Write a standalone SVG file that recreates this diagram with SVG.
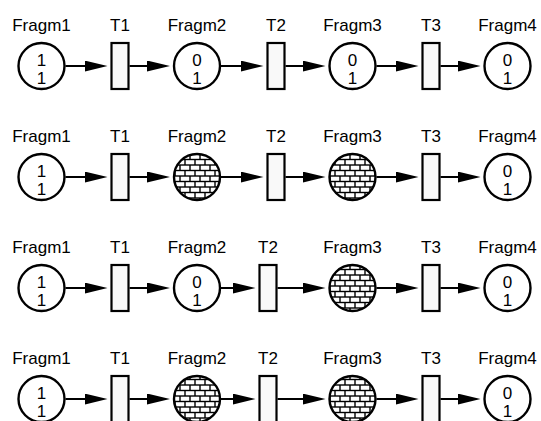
<svg xmlns="http://www.w3.org/2000/svg" width="541" height="421" viewBox="0 0 541 421">
<style>
.lbl{font-family:"Liberation Sans",Arial,sans-serif;font-size:17px;fill:#000;text-anchor:middle}
.tok{font-family:"Liberation Sans",Arial,sans-serif;font-size:17px;fill:#000;text-anchor:middle}
.pl{fill:#fff;stroke:#000;stroke-width:2.4}
.br{fill:url(#brick);stroke:#000;stroke-width:2.4}
.tr{fill:#f9f9f9;stroke:#000;stroke-width:2.2}
.ar{stroke:#000;stroke-width:2;fill:none;marker-end:url(#ah)}
</style>
<defs>
<marker id="ah" markerUnits="userSpaceOnUse" markerWidth="23" markerHeight="11" refX="13" refY="5.5" orient="auto" viewBox="0 0 23 11">
<path d="M0,0 L23,5.5 L0,11 z" fill="#000"/>
</marker>
<pattern id="brick" patternUnits="userSpaceOnUse" width="10" height="11">
<rect width="10" height="11" fill="#000"/>
<rect x="0.7" y="0.7" width="8.6" height="4.1" fill="#fff"/>
<rect x="-4.3" y="6.2" width="8.6" height="4.1" fill="#fff"/>
<rect x="5.7" y="6.2" width="8.6" height="4.1" fill="#fff"/>
</pattern>
</defs>

<!-- Row 1 -->
<g id="r1">
<g id="r1-fragm1"><text class="lbl" x="41.5" y="30.5">Fragm1</text><circle class="pl" cx="41.5" cy="66" r="23"/><text class="tok" x="41.5" y="65.5">1</text><text class="tok" x="41.5" y="83.5">1</text></g>
<g id="r1-t1"><text class="lbl" x="120" y="30.5">T1</text><rect class="tr" x="111.5" y="43" width="17" height="46"/></g>
<g id="r1-fragm2"><text class="lbl" x="197" y="30.5">Fragm2</text><circle class="pl" cx="197" cy="66" r="23"/><text class="tok" x="197" y="65.5">0</text><text class="tok" x="197" y="83.5">1</text></g>
<g id="r1-t2"><text class="lbl" x="276" y="30.5">T2</text><rect class="tr" x="267.5" y="43" width="17" height="46"/></g>
<g id="r1-fragm3"><text class="lbl" x="352.5" y="30.5">Fragm3</text><circle class="pl" cx="352.5" cy="66" r="23"/><text class="tok" x="352.5" y="65.5">0</text><text class="tok" x="352.5" y="83.5">1</text></g>
<g id="r1-t3"><text class="lbl" x="431" y="30.5">T3</text><rect class="tr" x="422.5" y="43" width="17" height="46"/></g>
<g id="r1-fragm4"><text class="lbl" x="507.5" y="30.5">Fragm4</text><circle class="pl" cx="507.5" cy="66" r="23"/><text class="tok" x="507.5" y="65.5">0</text><text class="tok" x="507.5" y="83.5">1</text></g>
</g>

<!-- Row 2 -->
<g id="r2">
<g id="r2-fragm1"><text class="lbl" x="41.5" y="141.5">Fragm1</text><circle class="pl" cx="41.5" cy="177" r="23"/><text class="tok" x="41.5" y="176.5">1</text><text class="tok" x="41.5" y="194.5">1</text></g>
<g id="r2-t1"><text class="lbl" x="120" y="141.5">T1</text><rect class="tr" x="111.5" y="154" width="17" height="46"/></g>
<g id="r2-fragm2"><text class="lbl" x="197" y="141.5">Fragm2</text><circle class="br" cx="197" cy="177" r="23"/></g>
<g id="r2-t2"><text class="lbl" x="276" y="141.5">T2</text><rect class="tr" x="267.5" y="154" width="17" height="46"/></g>
<g id="r2-fragm3"><text class="lbl" x="352.5" y="141.5">Fragm3</text><circle class="br" cx="352.5" cy="177" r="23"/></g>
<g id="r2-t3"><text class="lbl" x="431" y="141.5">T3</text><rect class="tr" x="422.5" y="154" width="17" height="46"/></g>
<g id="r2-fragm4"><text class="lbl" x="507.5" y="141.5">Fragm4</text><circle class="pl" cx="507.5" cy="177" r="23"/><text class="tok" x="507.5" y="176.5">0</text><text class="tok" x="507.5" y="194.5">1</text></g>
</g>

<!-- Row 3 -->
<g id="r3">
<g id="r3-fragm1"><text class="lbl" x="41.5" y="252.5">Fragm1</text><circle class="pl" cx="41.5" cy="288" r="23"/><text class="tok" x="41.5" y="287.5">1</text><text class="tok" x="41.5" y="305.5">1</text></g>
<g id="r3-t1"><text class="lbl" x="120" y="252.5">T1</text><rect class="tr" x="111.5" y="265" width="17" height="46"/></g>
<g id="r3-fragm2"><text class="lbl" x="197" y="252.5">Fragm2</text><circle class="pl" cx="197" cy="288" r="23"/><text class="tok" x="197" y="287.5">0</text><text class="tok" x="197" y="305.5">1</text></g>
<g id="r3-t2"><text class="lbl" x="268" y="252.5">T2</text><rect class="tr" x="259.5" y="265" width="17" height="46"/></g>
<g id="r3-fragm3"><text class="lbl" x="352.5" y="252.5">Fragm3</text><circle class="br" cx="352.5" cy="288" r="23"/></g>
<g id="r3-t3"><text class="lbl" x="431" y="252.5">T3</text><rect class="tr" x="422.5" y="265" width="17" height="46"/></g>
<g id="r3-fragm4"><text class="lbl" x="507.5" y="252.5">Fragm4</text><circle class="pl" cx="507.5" cy="288" r="23"/><text class="tok" x="507.5" y="287.5">0</text><text class="tok" x="507.5" y="305.5">1</text></g>
</g>

<!-- Row 4 -->
<g id="r4">
<g id="r4-fragm1"><text class="lbl" x="41.5" y="363.5">Fragm1</text><circle class="pl" cx="41.5" cy="399" r="23"/><text class="tok" x="41.5" y="398.5">1</text><text class="tok" x="41.5" y="416.5">1</text></g>
<g id="r4-t1"><text class="lbl" x="120" y="363.5">T1</text><rect class="tr" x="111.5" y="376" width="17" height="48"/></g>
<g id="r4-fragm2"><text class="lbl" x="197" y="363.5">Fragm2</text><circle class="br" cx="197" cy="399" r="23"/></g>
<g id="r4-t2"><text class="lbl" x="268" y="363.5">T2</text><rect class="tr" x="259.5" y="376" width="17" height="48"/></g>
<g id="r4-fragm3"><text class="lbl" x="352.5" y="363.5">Fragm3</text><circle class="br" cx="352.5" cy="399" r="23"/></g>
<g id="r4-t3"><text class="lbl" x="431" y="363.5">T3</text><rect class="tr" x="422.5" y="376" width="17" height="48"/></g>
<g id="r4-fragm4"><text class="lbl" x="507.5" y="363.5">Fragm4</text><circle class="pl" cx="507.5" cy="399" r="23"/><text class="tok" x="507.5" y="398.5">0</text><text class="tok" x="507.5" y="416.5">1</text></g>
</g>

<g id="connectors">
<!-- row 1 -->
<line class="ar" x1="65.5" y1="66" x2="97.5" y2="66"/>
<line class="ar" x1="129.5" y1="66" x2="160" y2="66"/>
<line class="ar" x1="221" y1="66" x2="253.5" y2="66"/>
<line class="ar" x1="285.5" y1="66" x2="315.5" y2="66"/>
<line class="ar" x1="376.5" y1="66" x2="408.5" y2="66"/>
<line class="ar" x1="440.5" y1="66" x2="470.5" y2="66"/>
<!-- row 2 -->
<line class="ar" x1="65.5" y1="177" x2="97.5" y2="177"/>
<line class="ar" x1="129.5" y1="177" x2="160" y2="177"/>
<line class="ar" x1="221" y1="177" x2="253.5" y2="177"/>
<line class="ar" x1="285.5" y1="177" x2="315.5" y2="177"/>
<line class="ar" x1="376.5" y1="177" x2="408.5" y2="177"/>
<line class="ar" x1="440.5" y1="177" x2="470.5" y2="177"/>
<!-- row 3 -->
<line class="ar" x1="65.5" y1="288" x2="97.5" y2="288"/>
<line class="ar" x1="129.5" y1="288" x2="160" y2="288"/>
<line class="ar" x1="221" y1="288" x2="245.5" y2="288"/>
<line class="ar" x1="277.5" y1="288" x2="315.5" y2="288"/>
<line class="ar" x1="376.5" y1="288" x2="408.5" y2="288"/>
<line class="ar" x1="440.5" y1="288" x2="470.5" y2="288"/>
<!-- row 4 -->
<line class="ar" x1="65.5" y1="399" x2="97.5" y2="399"/>
<line class="ar" x1="129.5" y1="399" x2="160" y2="399"/>
<line class="ar" x1="221" y1="399" x2="245.5" y2="399"/>
<line class="ar" x1="277.5" y1="399" x2="315.5" y2="399"/>
<line class="ar" x1="376.5" y1="399" x2="408.5" y2="399"/>
<line class="ar" x1="440.5" y1="399" x2="470.5" y2="399"/>
</g>
</svg>
